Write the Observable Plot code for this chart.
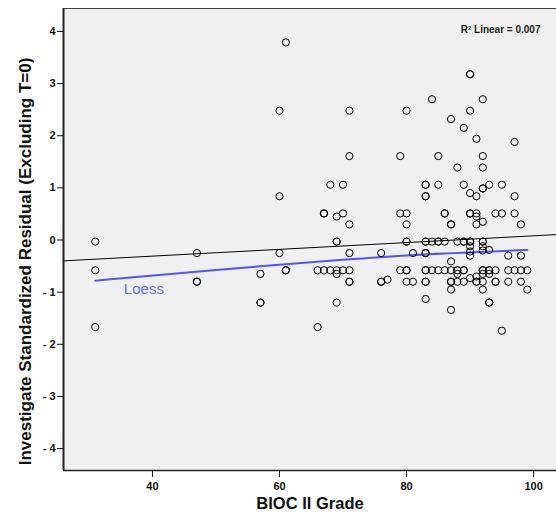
<!DOCTYPE html>
<html>
<head>
<meta charset="utf-8">
<script src="https://cdn.jsdelivr.net/npm/d3@7"></script>
<script src="https://cdn.jsdelivr.net/npm/@observablehq/plot@0.6"></script>
<style>
  html, body { margin: 0; padding: 0; background: white; }
  #chart { width: 556px; height: 516px; }
</style>
</head>
<body>
<div id="chart"></div>
<script>
// ---- data ----
const grades = [
  31,31,31,
  47,47,47,
  57,57,57,
  60,60,60,
  61,61,61,
  66,66,
  67,67,67,
  68,68,
  69,69,69,69,69,69,
  70,70,70,
  71,71,71,71,71,71,71,
  76,76,76,
  77,
  79,79,79,
  80,80,80,80,80,80,80,80,
  81,81,
  83,83,83,83,83,83,83,83,83,83,83,83,83,
  84,84,84,
  85,85,85,85,85,
  86,86,86,86,
  87,87,87,87,87,87,87,87,87,
  88,88,88,88,88,88,
  89,89,89,89,89,89,89,
  90,90,90,90,90,90,90,90,90,90,90,90,
  91,91,91,91,91,91,91,91,
  92,92,92,92,92,92,92,92,92,92,92,92,92,92,92,
  93,93,93,93,93,93,93,
  94,94,94,94,
  95,95,95,
  96,96,96,
  97,97,97,97,
  98,98,98,98,
  99,99
];
const residuals = [
  -0.03,-0.58,-1.67,
  -0.25,-0.80,-0.80,
  -0.65,-1.20,-1.20,
  2.48,0.84,-0.25,
  3.79,-0.58,-0.58,
  -0.58,-1.67,
  0.51,0.51,-0.58,
  1.06,-0.58,
  0.45,-0.03,-0.03,-0.58,-0.65,-1.20,
  1.06,0.51,-0.58,
  2.48,1.61,0.30,-0.25,-0.58,-0.80,-0.80,
  -0.25,-0.80,-0.80,
  -0.76,
  1.61,0.51,-0.58,
  2.48,0.51,0.30,-0.03,-0.03,-0.58,-0.58,-0.80,
  -0.25,-0.80,
  1.06,1.06,0.84,0.84,-0.03,-0.03,-0.25,-0.25,-0.58,-0.58,-0.80,-0.80,-1.13,
  2.70,-0.03,-0.58,
  1.61,1.06,-0.03,-0.03,-0.58,
  0.51,0.51,-0.03,-0.58,
  2.32,0.30,0.30,-0.41,-0.58,-0.80,-0.80,-0.95,-1.34,
  1.39,-0.03,-0.58,-0.58,-0.65,-0.80,
  2.15,1.06,-0.03,-0.03,-0.58,-0.58,-0.80,
  3.18,3.18,2.48,0.90,0.51,0.51,-0.03,-0.03,-0.12,-0.22,-0.30,-0.73,
  1.94,0.84,0.51,0.45,0.30,-0.70,-0.80,-0.80,
  2.70,1.61,1.39,0.99,0.99,0.35,-0.03,-0.03,-0.12,-0.20,-0.58,-0.58,-0.65,-0.80,-0.95,
  1.06,-0.19,-0.58,-0.58,-0.65,-1.20,-1.20,
  0.51,-0.58,-0.80,-0.80,
  1.06,0.51,-1.74,
  -0.30,-0.58,-0.80,
  1.88,0.84,0.51,-0.58,
  0.30,-0.30,-0.58,-0.80,
  -0.58,-0.95
];
// Loess curve
const loessX = [31, 40, 50, 60, 70, 80, 90, 99];
const loessY = [-0.78, -0.68, -0.575, -0.47, -0.38, -0.29, -0.24, -0.19];
// Linear fit (R² = 0.007)
const fitIntercept = -0.569;
const fitSlope = 0.0065;
const r2Label = "R² Linear = 0.007";
const loessLabel = "Loess";
const xTitle = "BIOC II Grade";
const yTitle = "Investigate Standardized Residual (Excluding T=0)";
const xTicks = [40, 60, 80, 100];
const yTicks = [-4, -3, -2, -1, 0, 1, 2, 3, 4];
const xDomain = [26, 103.6];
const yDomain = [-4.42, 4.44];

// ---- build tables ----
const points = grades.map((g, i) => ({grade: g, res: residuals[i]}));
const loess = loessX.map((x, i) => ({x, y: loessY[i]}));
const fit = xDomain.map(x => ({x, y: fitIntercept + fitSlope * x}));

const font = "'Liberation Sans', Arial, Helvetica, sans-serif";

const chart = Plot.plot({
  width: 556,
  height: 516,
  marginLeft: 63,
  marginRight: 0,
  marginTop: 8,
  marginBottom: 46,
  style: {fontFamily: font, background: "white", color: "#111"},
  x: {domain: xDomain},
  y: {domain: yDomain},
  marks: [
    Plot.frame({fill: "#f0f0f0", stroke: "none"}),
    Plot.ruleY([yDomain[1]], {stroke: "#444", strokeWidth: 1}),
    Plot.ruleY([yDomain[0]], {stroke: "#222", strokeWidth: 1.5}),
    Plot.ruleX([xDomain[0]], {stroke: "#222", strokeWidth: 2}),
    Plot.axisY({
      ticks: yTicks, tickSize: 6, tickPadding: 2, label: null,
      tickFormat: d => d < 0 ? "- " + (-d) : String(d),
      fontSize: 11, fontWeight: "bold"
    }),
    Plot.axisX({
      ticks: xTicks, tickSize: 7, tickPadding: 5, label: null,
      tickFormat: d => String(d),
      fontSize: 11, fontWeight: "bold", letterSpacing: 1
    }),
    Plot.line(fit, {x: "x", y: "y", stroke: "black", strokeWidth: 1}),
    Plot.line(loess, {x: "x", y: "y", stroke: "#5252ff", strokeWidth: 2, curve: "basis"}),
    Plot.dot(points, {x: "grade", y: "res", r: 3.6, stroke: "black", strokeWidth: 1, fill: "none"}),
    Plot.text([loessLabel], {x: 35.5, y: -0.94, text: d => d, textAnchor: "start", fill: "#6a6aff", fontSize: 15}),
    Plot.text([r2Label], {frameAnchor: "top-right", dx: -16, dy: 17, text: d => d, textAnchor: "end", fontSize: 10, fontWeight: "bold", fill: "#222"}),
    Plot.text([xTitle], {frameAnchor: "bottom", dy: 38, text: d => d, textAnchor: "middle", fontSize: 16.5, fontWeight: "bold", fill: "#111"}),
    Plot.text([yTitle], {frameAnchor: "left", dx: -38, dy: 22, rotate: -90, text: d => d, textAnchor: "middle", fontSize: 17, fontWeight: "bold", letterSpacing: 0.3, fill: "#111"})
  ]
});
document.getElementById("chart").appendChild(chart);
</script>
</body>
</html>
